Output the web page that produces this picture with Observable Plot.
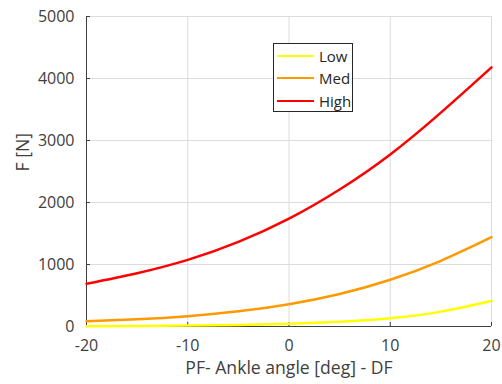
<!DOCTYPE html>
<html>
<head>
<meta charset="utf-8">
<script src="https://cdn.jsdelivr.net/npm/d3@7"></script>
<script src="https://cdn.jsdelivr.net/npm/@observablehq/plot@0.6"></script>
<style>
  html, body { margin: 0; padding: 0; background: #fff; }
  #chart { position: relative; width: 502px; height: 384px; font-family: "Open Sans", sans-serif; }
  .legend {
    position: absolute; left: 273px; top: 43px; width: 80px; height: 69px;
    border: 1px solid #262626; background: #fff; box-sizing: border-box;
    font-size: 15px; color: #262626;
  }
  .legend .row { position: absolute; left: 3px; height: 20px; display: flex; align-items: center; }
  .legend .swatch { width: 37px; height: 0; border-top: 2.5px solid; margin-right: 5px; }
</style>
</head>
<body>
<div id="chart"></div>
<script>
// Ankle angle (deg): negative = plantarflexion, positive = dorsiflexion
const angle = [-20, -15, -10, -5, 0, 5, 10, 15, 20];
// Force (N) for each activation level
const forceLow  = [5, 9, 15, 25, 43, 75, 133, 240, 410];
const forceMed  = [85, 117, 167, 245, 360, 525, 755, 1060, 1440];
const forceHigh = [690, 860, 1075, 1365, 1740, 2210, 2775, 3450, 4180];

const levels = ["Low", "Med", "High"];
const colors = ["#ffff00", "#ff9900", "#ff0000"];
const xTicks = [-20, -10, 0, 10, 20];
const yTicks = [0, 1000, 2000, 3000, 4000, 5000];
const xLabel = "PF- Ankle angle [deg] - DF";
const yLabel = "F [N]";

const series = [forceLow, forceMed, forceHigh];
const rows = series.flatMap((vals, i) => vals.map((f, j) => ({level: levels[i], angle: angle[j], force: f})));

const plot = Plot.plot({
  width: 502,
  height: 384,
  marginLeft: 86,
  marginRight: 11,
  marginTop: 16,
  marginBottom: 58,
  style: {fontFamily: "'Open Sans', sans-serif", fontSize: "16px", color: "#404040", background: "#fff"},
  x: {domain: [-20, 20]},
  y: {domain: [0, 5000]},
  color: {domain: levels, range: colors},
  marks: [
    Plot.gridX(xTicks, {stroke: "#dcdcdc", strokeOpacity: 1}),
    Plot.gridY(yTicks, {stroke: "#dcdcdc", strokeOpacity: 1}),
    Plot.axisX(xTicks, {tickSize: -4, tickPadding: 17, stroke: "#404040", fill: "#404040",
      tickFormat: d => String(d), label: null, fontSize: 16}),
    Plot.axisY(yTicks, {tickSize: -4, tickPadding: 16, stroke: "#404040", fill: "#404040",
      tickFormat: d => String(d), label: null, fontSize: 16}),
    Plot.ruleY([0], {stroke: "#404040"}),
    Plot.ruleX([-20], {stroke: "#404040"}),
    // axis titles
    Plot.text([xLabel], {text: d => d, frameAnchor: "bottom", dy: 47, fontSize: 17.6, fill: "#404040"}),
    Plot.text([yLabel], {text: d => d, frameAnchor: "left", dx: -63, rotate: -90, fontSize: 17.6, fill: "#404040"}),
    Plot.line(rows, {x: "angle", y: "force", stroke: "level", z: "level", strokeWidth: 2.5, curve: "natural"})
  ]
});
document.getElementById("chart").appendChild(plot);

// legend box inside the plot area
const legend = document.createElement("div");
legend.className = "legend";
levels.forEach((name, i) => {
  const row = document.createElement("div");
  row.className = "row";
  row.style.top = (1.5 + i * 22.5) + "px";
  const sw = document.createElement("span");
  sw.className = "swatch";
  sw.style.borderTopColor = colors[i];
  row.appendChild(sw);
  row.appendChild(document.createTextNode(name));
  legend.appendChild(row);
});
document.getElementById("chart").appendChild(legend);
</script>
</body>
</html>
